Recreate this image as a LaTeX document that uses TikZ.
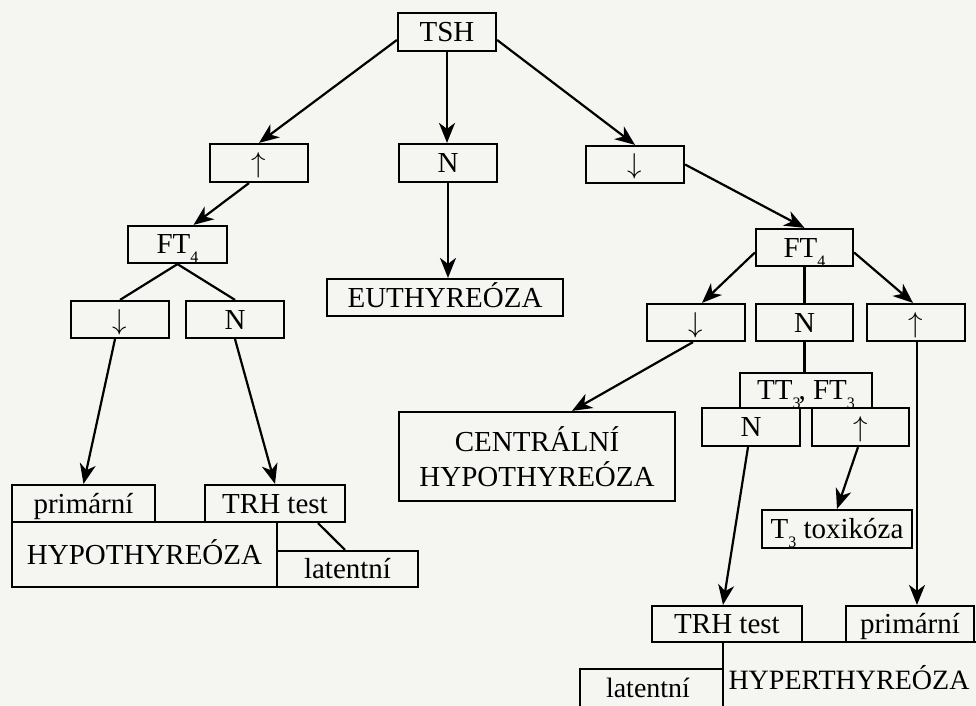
\documentclass[tikz,border=0pt]{standalone}
\usepackage{fontspec}
\setmainfont{Liberation Serif}
\usetikzlibrary{arrows.meta}
\newcommand\subd[1]{\raisebox{-4.5pt}{\fontsize{8}{8}\selectfont #1}}
\newcommand\upa{$\uparrow$}
\newcommand\dna{$\downarrow$}
\definecolor{paper}{HTML}{F5F5F2}
\begin{document}
\begin{tikzpicture}[x=0.5pt,y=-0.5pt,
  box/.style={draw, line width=1.1pt, inner sep=0pt, font=\fontsize{14.5}{17}\selectfont, text height=9.5pt, text depth=0pt},
  sz/.style 2 args={minimum width=#1*0.5pt, minimum height=#2*0.5pt},
  arr/.style={line width=1.1pt, -{Stealth[length=10pt,width=8pt,inset=3pt]}},
  ln/.style={line width=1.1pt},
  lbl/.style={font=\fontsize{14}{17}\selectfont, inner sep=0pt}]
\fill[paper] (0,0) rectangle (976,706);
\useasboundingbox (0,0) rectangle (976,706);
\begin{scope}
\clip (0,0) rectangle (976,706);
% level 1
\node[box, sz={98}{38}] (tsh) at (447,32) {TSH};
% level 2
\node[box, sz={98}{38}] (up1) at (259,163) {\upa};
\node[box, sz={98}{38}] (n1) at (448,163) {N};
\node[box, sz={98}{37}] (dn1) at (635,164.5) {\dna};
% left branch
\node[box, sz={99}{37}] (ft4a) at (177.5,244.5) {FT\subd{4}};
\node[box, sz={98}{37}] (dnl) at (120,319.5) {\dna};
\node[box, sz={98}{37}] (na) at (235,319.5) {N};
\node[box, sz={143}{37}] (prim1) at (83.5,503.5) {primární};
\node[box, sz={140}{37}] (trh1) at (275,503.5) {TRH test};
\node[box, sz={265}{65}] (hypo) at (144.5,554.5) {HYPOTHYREÓZA};
\node[box, sz={141}{36}] (lat1) at (347.5,569) {latentní};
% middle
\node[box, sz={236}{37}] (euthy) at (445,297.5) {EUTHYREÓZA};
\node[draw, line width=1.1pt, inner sep=0pt, font=\fontsize{14.5}{17.5}\selectfont, align=center, sz={276}{89}] (central) at (537,456.5) {CENTRÁLNÍ\\HYPOTHYREÓZA};
% right branch
\node[box, sz={97}{37}] (ft4b) at (804.5,247.5) {FT\subd{4}};
\node[box, sz={98}{37}] (dnb) at (696,322.5) {\dna};
\node[box, sz={97}{37}] (nb) at (804.5,322.5) {N};
\node[box, sz={98}{37}] (upb) at (916,322.5) {\upa};
\node[box, sz={132}{35}] (tt3) at (806,390.5) {TT\subd{3}\kern-1pt, FT\subd{3}};
\node[box, sz={98}{38}] (nc) at (751,427) {N};
\node[box, sz={97}{38}] (upc) at (860.5,427) {\upa};
\node[box, sz={150}{38}] (t3tox) at (837,529) {T\subd{3} toxikóza};
\node[box, sz={150}{36}] (trh2) at (727,624) {TRH test};
\node[box, sz={128}{36}] (prim2) at (910,624) {primární};
\draw[ln] (723,642) rectangle (1040,760);
\node[lbl] (hyper) at (849,678) {HYPERTHYREÓZA};
\draw[ln] (580,669) rectangle (723,760);
\node[lbl] (lat2) at (648,688) {latentní};
% connectors
\draw[arr] ([yshift=-4pt]tsh.west) -- (up1.north);
\draw[arr] (tsh.south) -- (tsh.south |- n1.north);
\draw[arr] ([yshift=-4pt]tsh.east) -- (dn1.north);
\draw[arr] (n1.south) -- (n1.south |- euthy.north);
\draw[arr] ([xshift=-5pt]up1.south) -- ([xshift=8pt]ft4a.north);
\draw[ln] (ft4a.south) -- (dnl.north);
\draw[ln] (ft4a.south) -- (na.north);
\draw[arr] ([xshift=-2.5pt]dnl.south) -- (prim1.north);
\draw[arr] (na.south) -- (trh1.north);
\draw[ln] ([xshift=21.5pt]trh1.south) -- ([xshift=-1.25pt]lat1.north);
\draw[arr] (dn1.east) -- (ft4b.north);
\draw[arr] ([yshift=-2.5pt]ft4b.west) -- ([xshift=3pt]dnb.north);
\draw[arr] ([yshift=-2.5pt]ft4b.east) -- ([xshift=-1.5pt]upb.north);
\draw[ln] (ft4b.south) -- (nb.north);
\draw[ln] (nb.south) -- (nb.south |- tt3.north);
\draw[arr] ([xshift=-1.5pt]dnb.south) -- ([xshift=17.5pt]central.north);
\draw[arr] ([xshift=-1.5pt]nc.south) -- ([xshift=-2pt]trh2.north);
\draw[arr] ([xshift=-1.25pt]upc.south) -- (t3tox.north);
\draw[arr] ([xshift=0.5pt]upb.south) -- ([xshift=0.5pt]upb.south |- prim2.north);
\end{scope}
\end{tikzpicture}
\end{document}
